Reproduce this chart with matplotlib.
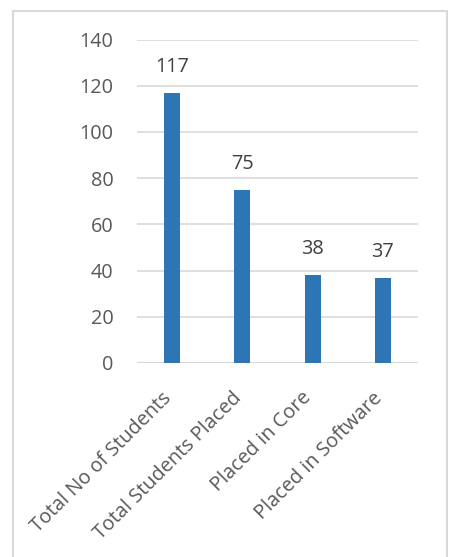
import matplotlib.pyplot as plt
from matplotlib.patches import Rectangle
from matplotlib.transforms import ScaledTranslation

categories = ["Total No of Students", "Total Students Placed", "Placed in Core", "Placed in Software"]
values = [117, 75, 38, 37]
yticks = [0, 20, 40, 60, 80, 100, 120, 140]

plt.rcParams['font.family'] = ['Open Sans', 'DejaVu Sans']

fig = plt.figure(figsize=(4.54, 5.57), dpi=100)
ax = fig.add_axes([137/454, 1 - 363/557, 281/454, 323.5/557])

x = range(len(categories))
bars = ax.bar(x, values, width=0.23, color="#2E75B6", zorder=3)

ax.set_xlim(-0.5, len(categories) - 0.5)
ax.set_ylim(0, 140)
ax.set_yticks(yticks)
ax.grid(axis="y", color="#D9D9D9", linewidth=1.2, zorder=0)
ax.axhline(0, color="#D9D9D9", linewidth=1.5, zorder=2)
for s in ax.spines.values():
    s.set_visible(False)
ax.tick_params(axis="both", length=0, labelsize=14.3, labelcolor="#595959")
ax.tick_params(axis="y", pad=17)

ax.set_xticks(list(x))
ax.set_xticklabels(categories, rotation=45, ha="right", va="top", rotation_mode="anchor", fontsize=14.3)
ax.tick_params(axis="x", pad=18)
# nudge rotated labels left so they end under the bar centre
shift = ScaledTranslation(-0.11, 0, fig.dpi_scale_trans)
for lbl in ax.get_xticklabels():
    lbl.set_transform(lbl.get_transform() + shift)

for b, v in zip(bars, values):
    ax.annotate(str(v), (b.get_x() + b.get_width() / 2, v), xytext=(0, 11.5),
                textcoords="offset points", ha="center", va="bottom",
                fontsize=14.3, color="#404040")

fig.patches.append(Rectangle((13/454, -0.01), 434/454, 1 - 11/557 + 0.01,
                             transform=fig.transFigure, fill=False,
                             edgecolor="#D9D9D9", linewidth=1.5))

fig.savefig("out.png", dpi=100)
